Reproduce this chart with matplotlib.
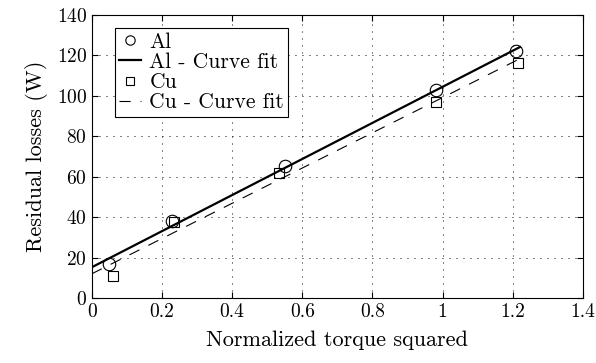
import matplotlib
matplotlib.use("Agg")
import matplotlib.pyplot as plt
import numpy as np

al_x = [0.05, 0.23, 0.55, 0.98, 1.21]
al_y = [17, 38, 65.5, 103, 122]
cu_x = [0.06, 0.235, 0.535, 0.98, 1.215]
cu_y = [11, 37.5, 62, 97, 116]

plt.rcParams["font.family"] = "serif"
plt.rcParams["font.serif"] = ["cmr10", "DejaVu Serif"]
plt.rcParams["axes.formatter.use_mathtext"] = True

fig = plt.figure(figsize=(5.96, 3.63), dpi=100)
ax = fig.add_axes([0.154, 0.179, 0.824, 0.78])

al_fit = np.polyfit(al_x, al_y, 1)
cu_fit = np.polyfit(cu_x, cu_y, 1)
xf = np.linspace(0, 1.22, 50)

ax.plot(al_x, al_y, "o", mfc="none", mec="black", ms=9, mew=0.8, label="Al")
ax.plot(xf, np.polyval(al_fit, xf), "-", color="black", lw=1.6, label="Al - Curve fit")
ax.plot(cu_x, cu_y, "s", mfc="none", mec="black", ms=7, mew=0.8, label="Cu")
ax.plot(xf, np.polyval(cu_fit, xf), "--", color="black", lw=0.8, dashes=(10, 9),
        label="Cu - Curve fit")

ax.set_xlim(0, 1.4)
ax.set_ylim(0, 140)
ax.set_xticks(np.arange(0, 1.41, 0.2))
ax.set_yticks(np.arange(0, 141, 20))
ax.set_xticklabels(["0", "0.2", "0.4", "0.6", "0.8", "1", "1.2", "1.4"])
ax.grid(True, linestyle=(0, (1, 6.2)), color="black", lw=0.7)
ax.tick_params(direction="in", top=True, right=True, length=4, labelsize=14)
for s in ax.spines.values():
    s.set_linewidth(0.8)

ax.set_xlabel("Normalized torque squared", fontsize=16, labelpad=7)
ax.set_ylabel("Residual losses (W)", fontsize=16, labelpad=6)

leg = ax.legend(loc="upper left", bbox_to_anchor=(0.047, 0.954), fancybox=False,
                edgecolor="black", framealpha=1, handlelength=1.0, markerscale=0.75,
                handletextpad=0.4, borderpad=0.2, labelspacing=0.03, fontsize=15.5,
                borderaxespad=0)
leg.get_frame().set_linewidth(0.8)

fig.savefig("out.png", dpi=100)
